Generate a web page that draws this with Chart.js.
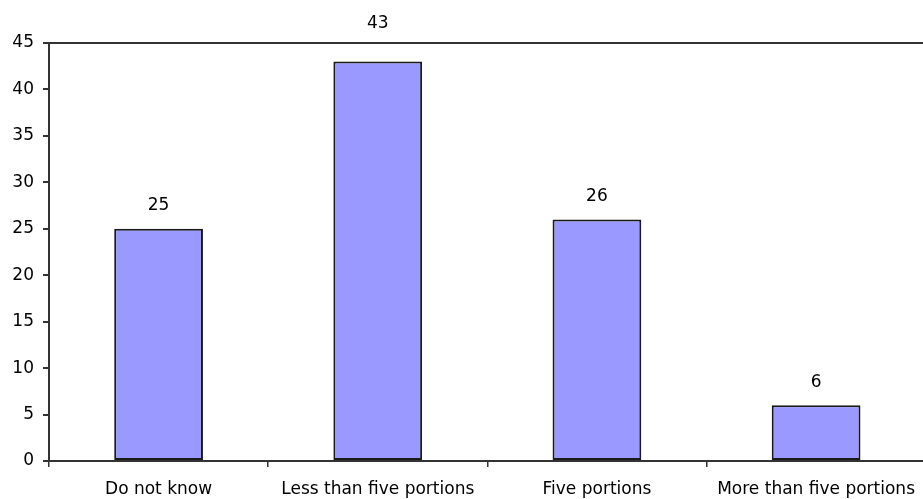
<!DOCTYPE html>
<html>
<head>
<meta charset="utf-8">
<script src="https://cdn.jsdelivr.net/npm/chart.js@4/dist/chart.umd.min.js"></script>
<style>
  html, body { margin: 0; padding: 0; background: #fff; overflow: hidden; }
  #wrap { position: relative; width: 927px; height: 499px; }
</style>
</head>
<body>
<div id="wrap"><canvas id="chart"></canvas></div>
<script>
// Answers to "How many portions of fruit and vegetables should you eat a day?"
const categories = ['Do not know', 'Less than five portions', 'Five portions', 'More than five portions'];
const percentages = [25, 43, 26, 6];
const yTicks = [0, 5, 10, 15, 20, 25, 30, 35, 40, 45];

const FONT = { family: '"DejaVu Sans", sans-serif', size: 17 };
const AXIS = '#333333';

// Value labels above each bar; a label that would sit on the top frame line is lifted above it.
const valueLabels = {
  id: 'valueLabels',
  afterDatasetsDraw(chart) {
    const { ctx, chartArea } = chart;
    const meta = chart.getDatasetMeta(0);
    ctx.save();
    ctx.font = FONT.size + 'px ' + FONT.family;
    ctx.fillStyle = '#000';
    ctx.textAlign = 'center';
    ctx.textBaseline = 'middle';
    meta.data.forEach((bar, i) => {
      let y = bar.y - 23;
      if (y < chartArea.top + 10) y = chartArea.top - 19;
      ctx.fillText(String(percentages[i]), bar.x, y);
    });
    ctx.restore();
  }
};

new Chart(document.getElementById('chart'), {
  type: 'bar',
  data: {
    labels: categories,
    datasets: [{
      data: percentages,
      backgroundColor: '#9999FF',
      borderColor: '#1a1a1a',
      borderWidth: 2,
      borderSkipped: false,
      categoryPercentage: 1,
      barPercentage: 0.405
    }]
  },
  options: {
    responsive: true,
    maintainAspectRatio: false,
    animation: false,
    layout: { padding: { top: 43, right: 0, left: 0, bottom: 0 } },
    plugins: { legend: { display: false }, tooltip: { enabled: false } },
    scales: {
      x: {
        type: 'category',
        offset: true,
        grid: { offset: true, drawOnChartArea: false, tickLength: 6, tickColor: AXIS, lineWidth: 1.5 },
        border: { display: true, color: AXIS, width: 2 },
        ticks: { font: FONT, color: '#000', padding: 12, maxRotation: 0, autoSkip: false },
        afterFit(scale) { scale.height = 38; }
      },
      y: {
        min: 0,
        max: 45,
        afterBuildTicks(scale) { scale.ticks = yTicks.map(v => ({ value: v })); },
        grid: {
          drawOnChartArea: true,
          color: c => (c.tick && c.tick.value === 45) ? AXIS : 'rgba(0,0,0,0)',
          lineWidth: 2,
          tickLength: 6,
          tickColor: AXIS
        },
        border: { display: true, color: AXIS, width: 2 },
        ticks: { font: FONT, color: '#000', padding: 9 },
        afterFit(scale) { scale.width = 49; }
      }
    }
  },
  plugins: [valueLabels]
});
</script>
</body>
</html>
